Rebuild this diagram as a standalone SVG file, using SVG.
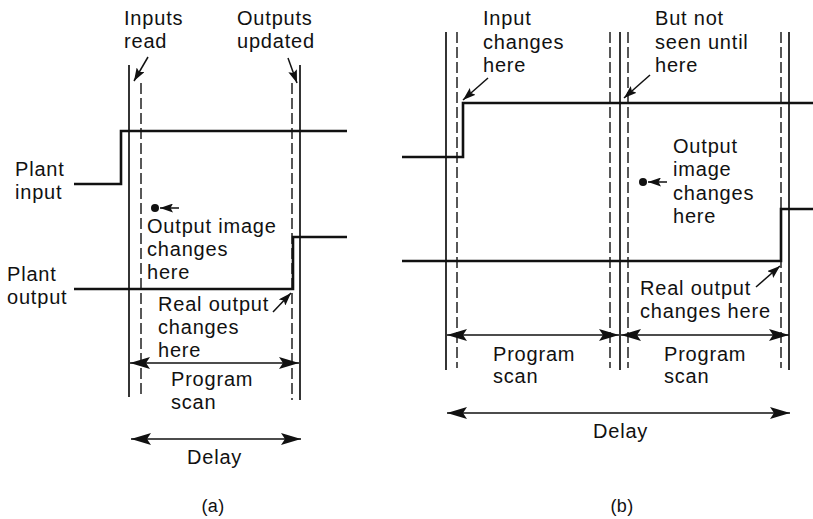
<svg xmlns="http://www.w3.org/2000/svg" width="813" height="519" viewBox="0 0 813 519">
<defs>
<style>
text{font-family:"Liberation Sans",Arial,sans-serif;font-size:20px;letter-spacing:0.8px;fill:#111}
.cap{font-size:18px;letter-spacing:0.3px}
.sol{stroke:#111;stroke-width:1.7;fill:none}
.dash{stroke:#111;stroke-width:1.4;fill:none;stroke-dasharray:11 4}
.sig{stroke:#111;stroke-width:2.6;fill:none}
.dim{stroke:#111;stroke-width:1.4;fill:none;marker-start:url(#ah);marker-end:url(#ah)}
.ptr{stroke:#111;stroke-width:1.5;fill:none;marker-end:url(#sh)}
</style>
<marker id="ah" viewBox="0 0 20 12" refX="20" refY="6" markerWidth="20" markerHeight="12" markerUnits="userSpaceOnUse" orient="auto-start-reverse">
<path d="M0,0 L20,6 L0,12 L4,6 Z" fill="#111"/>
</marker>
<marker id="sh" viewBox="0 0 13 9" refX="13" refY="4.5" markerWidth="13" markerHeight="9" markerUnits="userSpaceOnUse" orient="auto">
<path d="M0,0 L13,4.5 L0,9 L2.5,4.5 Z" fill="#111"/>
</marker>
</defs>

<g id="panel-a">
<g id="a-scan-lines">
<line class="sol" x1="129" y1="65" x2="129" y2="397"/>
<line class="dash" x1="141" y1="83" x2="141" y2="397"/>
<line class="dash" x1="292" y1="83" x2="292" y2="400"/>
<line class="sol" x1="300" y1="65" x2="300" y2="400"/>
</g>
<g id="a-plant-input">
<path class="sig" d="M74,184 H121 V131 H347"/>
<text x="15" y="176">Plant</text>
<text x="15" y="199">input</text>
</g>
<g id="a-plant-output">
<path class="sig" d="M74,289 H293 V237 H347"/>
<text x="7" y="281">Plant</text>
<text x="7" y="304">output</text>
</g>
<g id="a-inputs-read">
<text x="124" y="25">Inputs</text>
<text x="124" y="48">read</text>
</g>
<g id="a-outputs-updated">
<text x="237" y="25">Outputs</text>
<text x="237" y="48">updated</text>
</g>
<g id="a-output-image">
<circle cx="155" cy="208" r="4" fill="#111"/>
<text x="147" y="233">Output image</text>
<text x="147" y="256">changes</text>
<text x="147" y="279">here</text>
</g>
<g id="a-real-output">
<text x="158" y="311">Real output</text>
<text x="158" y="334">changes</text>
<text x="158" y="357">here</text>
</g>
<g id="a-program-scan">
<text x="171" y="386">Program</text>
<text x="171" y="409">scan</text>
</g>
<g id="a-delay">
<text x="187" y="464">Delay</text>
</g>
<text class="cap" x="213" y="512" text-anchor="middle">(a)</text>
</g>

<g id="panel-b">
<g id="b-scan-lines">
<line class="sol" x1="446" y1="32" x2="446" y2="370"/>
<line class="dash" x1="457" y1="32" x2="457" y2="368"/>
<line class="dash" x1="610" y1="32" x2="610" y2="368"/>
<line class="sol" x1="620" y1="32" x2="620" y2="370"/>
<line class="dash" x1="628" y1="32" x2="628" y2="368"/>
<line class="dash" x1="781" y1="32" x2="781" y2="368"/>
<line class="sol" x1="789" y1="32" x2="789" y2="370"/>
</g>
<g id="b-input">
<path class="sig" d="M402,157 H463 V103 H813"/>
</g>
<g id="b-output">
<path class="sig" d="M402,261 H781 V209 H813"/>
</g>
<g id="b-input-changes">
<text x="483" y="25">Input</text>
<text x="483" y="49">changes</text>
<text x="483" y="72">here</text>
</g>
<g id="b-not-seen">
<text x="655" y="25">But not</text>
<text x="655" y="49">seen until</text>
<text x="655" y="72">here</text>
</g>
<g id="b-output-image">
<circle cx="643" cy="182" r="4" fill="#111"/>
<text x="673" y="153">Output</text>
<text x="673" y="176">image</text>
<text x="673" y="200">changes</text>
<text x="673" y="223">here</text>
</g>
<g id="b-real-output">
<text x="640" y="295">Real output</text>
<text x="640" y="318">changes here</text>
</g>
<g id="b-program-scan-1">
<text x="493" y="361">Program</text>
<text x="493" y="383">scan</text>
</g>
<g id="b-program-scan-2">
<text x="664" y="361">Program</text>
<text x="664" y="383">scan</text>
</g>
<g id="b-delay">
<text x="593" y="438">Delay</text>
</g>
<text class="cap" x="622" y="512" text-anchor="middle">(b)</text>
</g>

<g id="connectors">
<line class="ptr" x1="148" y1="57" x2="134" y2="81"/>
<line class="ptr" x1="288" y1="58" x2="297" y2="83"/>
<line class="ptr" x1="179" y1="208" x2="160" y2="208"/>
<line class="ptr" x1="273" y1="312" x2="291" y2="293"/>
<line class="dim" x1="130" y1="363" x2="299" y2="363"/>
<line class="dim" x1="131" y1="439" x2="301" y2="439"/>
<line class="ptr" x1="488" y1="78" x2="463" y2="100"/>
<line class="ptr" x1="650" y1="75" x2="624" y2="98"/>
<line class="ptr" x1="667" y1="182" x2="648" y2="182"/>
<line class="ptr" x1="756" y1="287" x2="780" y2="266"/>
<line class="dim" x1="447" y1="335" x2="619" y2="335"/>
<line class="dim" x1="621" y1="335" x2="789" y2="335"/>
<line class="dim" x1="447" y1="413" x2="790" y2="413"/>
</g>
</svg>
